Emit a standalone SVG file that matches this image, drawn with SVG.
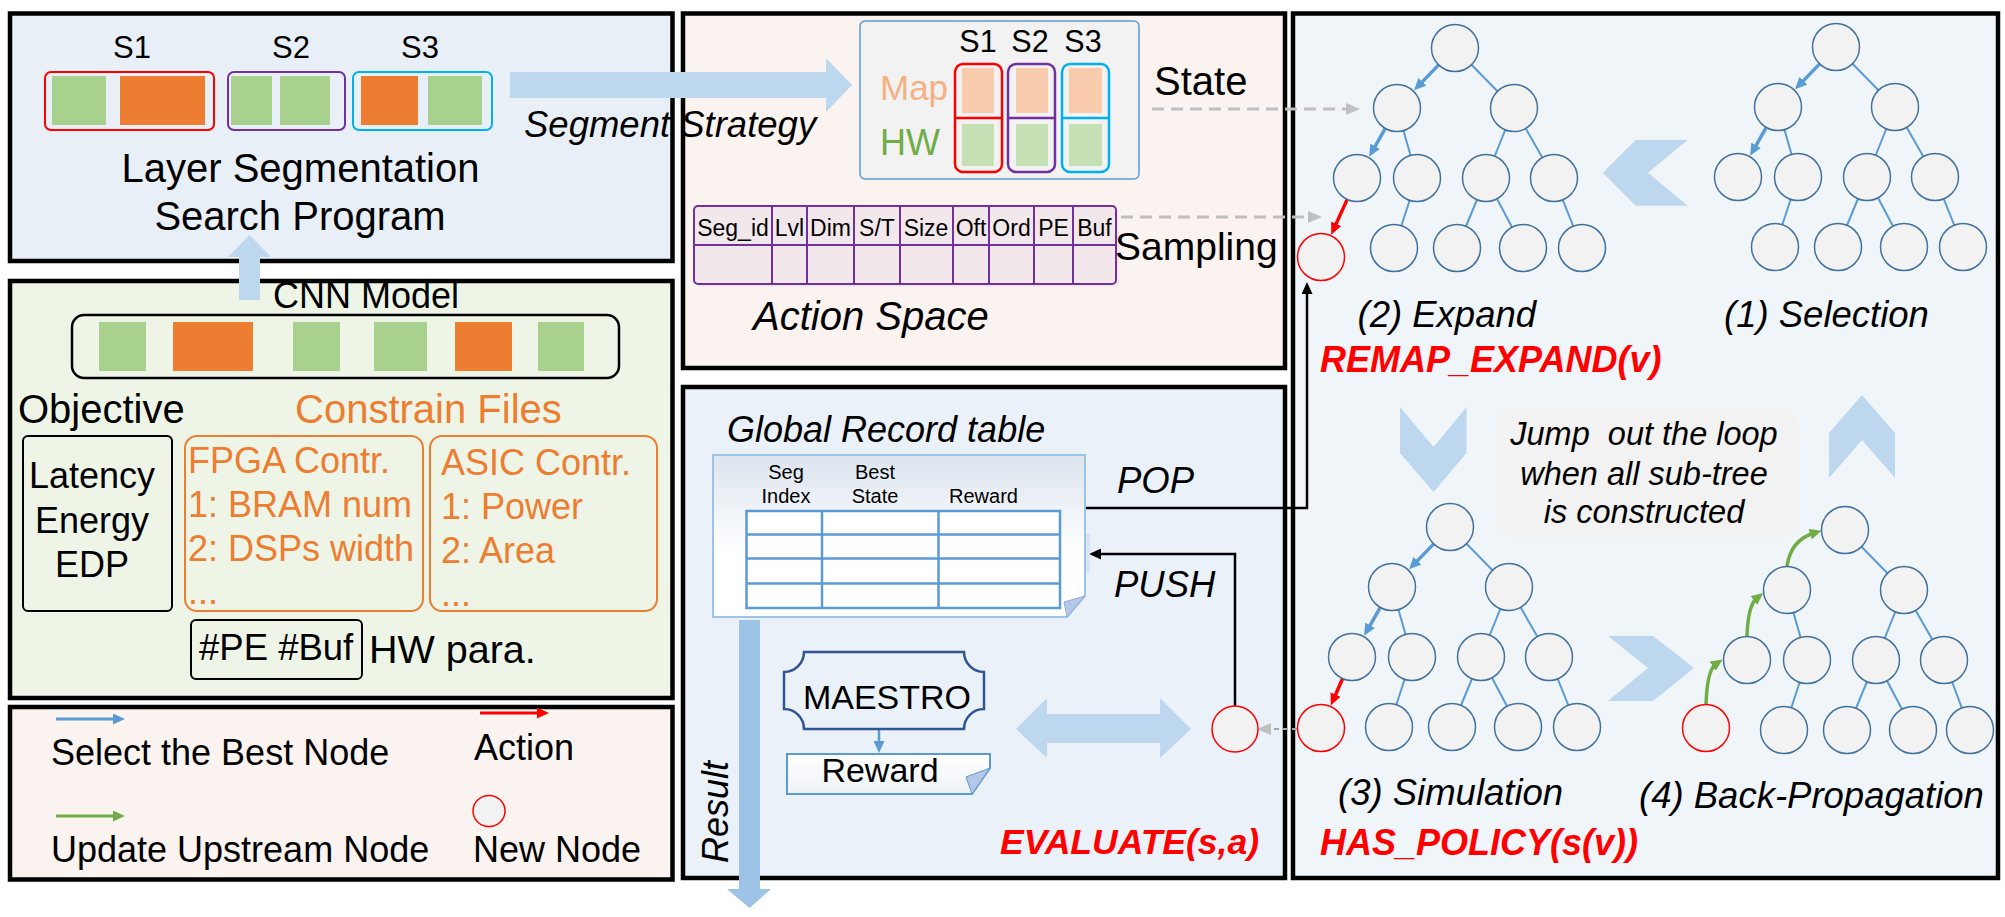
<svg xmlns="http://www.w3.org/2000/svg" width="2005" height="917" viewBox="0 0 2005 917">
<style>
text{font-family:"Liberation Sans",Arial,sans-serif;fill:#000}
.it{font-style:italic}
.bi{font-style:italic;font-weight:bold;fill:#FF0000}
.mid{text-anchor:middle}
.panel{stroke:#000;stroke-width:4.5}
.tn{fill:#F2F2F2;stroke:#41719C;stroke-width:1.5}
.nn{fill:#F2F2F2;stroke:#FF0000;stroke-width:1.5}
.te{stroke:#5B9BD5;stroke-width:2;fill:none}
.ba{stroke:#5B9BD5;stroke-width:3.5;fill:none;marker-end:url(#mb)}
.ra{stroke:#FF0000;stroke-width:3.5;fill:none;marker-end:url(#mr)}
.ga{stroke:#70AD47;stroke-width:3.5;fill:none;marker-end:url(#mg)}
.gd{stroke:#BFBFBF;stroke-width:3;stroke-dasharray:12 7;fill:none;marker-end:url(#mgr)}
.k{stroke:#000;stroke-width:2.5;fill:none;marker-end:url(#mk)}
.g{fill:#A9D18E}
.o{fill:#ED7D31}
.chev{fill:#BDD7EE}
.org{fill:#ED7D31}
.cell{stroke:#7030A0;stroke-width:2}
.grid{stroke:#5B9BD5;stroke-width:2.5;fill:none}
</style>
<defs>
<marker id="mb" markerUnits="userSpaceOnUse" markerWidth="12" markerHeight="11" viewBox="0 0 12 11" refX="4" refY="5.5" orient="auto"><path d="M0,0 L12,5.5 L0,11 z" fill="#5B9BD5"/></marker>
<marker id="mr" markerUnits="userSpaceOnUse" markerWidth="12" markerHeight="11" viewBox="0 0 12 11" refX="4" refY="5.5" orient="auto"><path d="M0,0 L12,5.5 L0,11 z" fill="#FF0000"/></marker>
<marker id="mg" markerUnits="userSpaceOnUse" markerWidth="12" markerHeight="11" viewBox="0 0 12 11" refX="4" refY="5.5" orient="auto"><path d="M0,0 L12,5.5 L0,11 z" fill="#70AD47"/></marker>
<marker id="mgr" markerUnits="userSpaceOnUse" markerWidth="14" markerHeight="12" viewBox="0 0 14 12" refX="5" refY="6" orient="auto"><path d="M0,0 L14,6 L0,12 z" fill="#BFBFBF"/></marker>
<marker id="mk" markerUnits="userSpaceOnUse" markerWidth="12" markerHeight="11" viewBox="0 0 12 11" refX="4" refY="5.5" orient="auto"><path d="M0,0 L12,5.5 L0,11 z" fill="#000"/></marker>
<linearGradient id="doc" x1="0" y1="0" x2="0" y2="1"><stop offset="0" stop-color="#DCE4EE"/><stop offset="0.6" stop-color="#FFFFFF"/><stop offset="1" stop-color="#FFFFFF"/></linearGradient>
<linearGradient id="doc2" x1="0" y1="0" x2="0" y2="1"><stop offset="0" stop-color="#FFFFFF"/><stop offset="1" stop-color="#EEF2F7"/></linearGradient>
</defs>

<g id="panels">
<rect class="panel" x="10" y="13.5" width="662.5" height="247.5" fill="#E9EFF7"/>
<rect class="panel" x="10" y="281" width="662.5" height="417" fill="#EEF5E7"/>
<rect class="panel" x="10" y="707" width="662.5" height="172.5" fill="#FBF3EF"/>
<rect class="panel" x="683" y="13.5" width="602" height="354.5" fill="#FBF3EF"/>
<rect class="panel" x="683" y="387" width="602" height="491" fill="#EAF1F8"/>
<rect class="panel" x="1293" y="13.5" width="705" height="864.5" fill="#F0F5FA"/>
</g>

<g id="connectors">
<polygon points="510,72 826,72 826,58 852,85 826,112 826,98 510,98" fill="#BDD7EE"/>
<polygon points="239,300 239,257 228,257 249.5,235 271,257 260,257 260,300" fill="#BDD7EE"/>
<polygon points="739,620 760,620 760,889 771,889 749.5,908 727,889 739,889" fill="#9DC3E6"/>
<polygon points="1016,729 1047,698 1047,714 1160,714 1160,698 1191,729 1160,758 1160,743 1047,743 1047,758" fill="#BDD7EE"/>
<path class="gd" d="M1152,109 H1351"/>
<path class="gd" d="M1121,217 H1313"/>
<path d="M1297,729 H1266" stroke="#A6A6A6" stroke-width="2" stroke-dasharray="5 4" fill="none" marker-end="url(#mgr)"/>
<path class="k" d="M1085,508 H1307 V290"/>
<path class="k" d="M1235,706 V554 H1097"/>
<path d="M879,729 V745" stroke="#5B9BD5" stroke-width="2.5" fill="none" marker-end="url(#mb)"/>
<!-- tree edges -->
<g id="edges-expand">
<path class="te" d="M1455,48 L1514,108 M1397,108 L1417,178 M1514,108 L1486,178 M1514,108 L1554,178 M1417,178 L1394,248 M1486,178 L1457,248 M1486,178 L1523,248 M1554,178 L1582,248"/>
<path class="ba" d="M1438.7,64.9 L1419.6,84.6"/>
<path class="ba" d="M1385.3,128.4 L1373.1,149.8"/>
<path class="ra" d="M1347.2,199.4 L1334.5,227.4"/>
</g>
<g id="edges-selection">
<path class="te" d="M1836,47 L1895,107 M1778,107 L1798,177 M1895,107 L1867,177 M1895,107 L1935,177 M1798,177 L1775,247 M1867,177 L1838,247 M1867,177 L1904,247 M1935,177 L1963,247"/>
<path class="ba" d="M1819.7,63.9 L1800.6,83.6"/>
<path class="ba" d="M1766.3,127.4 L1754.1,148.8"/>
</g>
<g id="edges-simulation">
<path class="te" d="M1450,527 L1509,587 M1392,587 L1412,657 M1509,587 L1481,657 M1509,587 L1549,657 M1412,657 L1389,727 M1481,657 L1452,727 M1481,657 L1518,727 M1549,657 L1577,727"/>
<path class="ba" d="M1433.7,543.9 L1414.6,563.6"/>
<path class="ba" d="M1380.3,607.4 L1368.1,628.8"/>
<path class="ra" d="M1342.6,678.5 L1334,698.2"/>
</g>
<g id="edges-backprop">
<path class="te" d="M1845,530 L1904,590 M1787,590 L1807,660 M1904,590 L1876,660 M1904,590 L1944,660 M1807,660 L1784,730 M1876,660 L1847,730 M1876,660 L1913,730 M1944,660 L1970,730"/>
<path class="ga" d="M1706,705 Q1707,670 1716,664"/>
<path class="ga" d="M1747,636 Q1748,605 1757,598"/>
<path class="ga" d="M1787,566 Q1791,540 1814,533"/>
</g>
</g>

<g id="segment-program">
<text class="mid" x="132" y="58" font-size="31">S1</text>
<text class="mid" x="291" y="58" font-size="31">S2</text>
<text class="mid" x="420" y="58" font-size="31">S3</text>
<rect x="45" y="72" width="169" height="58" rx="6" fill="none" stroke="#FF0000" stroke-width="2"/>
<rect class="g" x="52" y="76" width="54" height="49"/>
<rect class="o" x="120" y="76" width="85" height="49"/>
<rect x="228" y="72" width="117" height="58" rx="6" fill="none" stroke="#7030A0" stroke-width="2"/>
<rect class="g" x="231" y="76" width="41" height="49"/>
<rect class="g" x="280" y="76" width="50" height="49"/>
<rect x="353" y="72" width="139" height="58" rx="6" fill="none" stroke="#00B0F0" stroke-width="2"/>
<rect class="o" x="361" y="76" width="57" height="49"/>
<rect class="g" x="428" y="76" width="54" height="49"/>
<text class="mid" x="300.5" y="182" font-size="40">Layer Segmentation</text>
<text class="mid" x="300" y="230" font-size="40">Search Program</text>
</g>
<text id="segment-strategy" class="it" x="524" y="137" font-size="36.5">Segment Strategy</text>

<g id="cnn-model">
<text x="273" y="308" font-size="36">CNN Model</text>
<rect x="72" y="315" width="547" height="63" rx="12" fill="none" stroke="#000" stroke-width="2.5"/>
<rect class="g" x="99" y="322" width="47" height="49"/>
<rect class="o" x="173" y="322" width="80" height="49"/>
<rect class="g" x="293" y="322" width="47" height="49"/>
<rect class="g" x="374" y="322" width="53" height="49"/>
<rect class="o" x="455" y="322" width="57" height="49"/>
<rect class="g" x="538" y="322" width="46" height="49"/>
<text x="18" y="423" font-size="40">Objective</text>
<text class="org" x="295" y="423" font-size="40">Constrain Files</text>
<rect x="23" y="436" width="149" height="175" rx="5" fill="none" stroke="#000" stroke-width="2"/>
<text class="mid" x="92" y="488" font-size="36">Latency</text>
<text class="mid" x="92" y="533" font-size="36">Energy</text>
<text class="mid" x="92" y="577" font-size="36">EDP</text>
<rect x="185" y="436" width="238" height="175" rx="12" fill="none" stroke="#ED7D31" stroke-width="2"/>
<text class="org" x="188" y="473" font-size="36">FPGA Contr.</text>
<text class="org" x="188" y="517" font-size="36">1: BRAM num</text>
<text class="org" x="188" y="561" font-size="36">2: DSPs width</text>
<text class="org" x="188" y="604" font-size="36">...</text>
<rect x="430" y="436" width="227" height="175" rx="12" fill="none" stroke="#ED7D31" stroke-width="2"/>
<text class="org" x="441" y="475" font-size="36">ASIC Contr.</text>
<text class="org" x="441" y="519" font-size="36">1: Power</text>
<text class="org" x="441" y="563" font-size="36">2: Area</text>
<text class="org" x="441" y="606" font-size="36">...</text>
<rect x="191" y="620" width="171" height="59" rx="5" fill="none" stroke="#000" stroke-width="2"/>
<text x="199" y="660" font-size="36.5">#PE #Buf</text>
<text x="369" y="663" font-size="39.5">HW para.</text>
</g>

<g id="legend">
<path d="M56,719 H117" stroke="#5B9BD5" stroke-width="3" marker-end="url(#mb)"/>
<text x="51" y="765" font-size="36">Select the Best Node</text>
<path d="M480,713 H541" stroke="#FF0000" stroke-width="3" marker-end="url(#mr)"/>
<text x="474" y="760" font-size="36">Action</text>
<path d="M56,816 H117" stroke="#70AD47" stroke-width="3" marker-end="url(#mg)"/>
<text x="51" y="862" font-size="36">Update Upstream Node</text>
<ellipse class="nn" cx="489" cy="811" rx="16" ry="15.5"/>
<text x="473" y="862" font-size="36">New Node</text>
</g>

<g id="state">
<rect x="860" y="21" width="279" height="158" rx="5" fill="#F2F2F2" stroke="#5B9BD5" stroke-width="1.5"/>
<text class="mid" x="978" y="52" font-size="30.5">S1</text>
<text class="mid" x="1030" y="52" font-size="30.5">S2</text>
<text class="mid" x="1083" y="52" font-size="30.5">S3</text>
<text x="880" y="100" font-size="35" fill="#F4B183" style="fill:#F4B183">Map</text>
<text x="880" y="155" font-size="36" style="fill:#70AD47">HW</text>
<rect x="962" y="68" width="32" height="45" fill="#F8CBAD"/>
<rect x="962" y="124" width="32" height="42" fill="#C5E0B4"/>
<rect x="1016" y="68" width="32" height="45" fill="#F8CBAD"/>
<rect x="1016" y="124" width="32" height="42" fill="#C5E0B4"/>
<rect x="1069" y="68" width="33" height="45" fill="#F8CBAD"/>
<rect x="1069" y="124" width="33" height="42" fill="#C5E0B4"/>
<rect x="955" y="64" width="47" height="108" rx="8" fill="none" stroke="#FF0000" stroke-width="2.5"/>
<line x1="955" y1="118" x2="1002" y2="118" stroke="#FF0000" stroke-width="2.5"/>
<rect x="1008" y="64" width="47" height="108" rx="8" fill="none" stroke="#7030A0" stroke-width="2.5"/>
<line x1="1008" y1="118" x2="1055" y2="118" stroke="#7030A0" stroke-width="2.5"/>
<rect x="1062" y="64" width="47" height="108" rx="8" fill="none" stroke="#00B0F0" stroke-width="2.5"/>
<line x1="1062" y1="118" x2="1109" y2="118" stroke="#00B0F0" stroke-width="2.5"/>
<text x="1154" y="95" font-size="40">State</text>
</g>

<g id="action-space">
<rect x="697" y="209" width="422" height="78" rx="4" fill="#E8E0E4" opacity="0.5"/>
<rect class="cell" x="694" y="206" width="422" height="78" rx="4" fill="#F2E8EC"/>
<path class="cell" d="M694,245 H1116 M772,206 V284 M807,206 V284 M854,206 V284 M900,206 V284 M953,206 V284 M989,206 V284 M1034,206 V284 M1073,206 V284"/>
<text class="mid" x="733" y="236" font-size="23">Seg_id</text>
<text class="mid" x="789.5" y="236" font-size="23">Lvl</text>
<text class="mid" x="830.5" y="236" font-size="23">Dim</text>
<text class="mid" x="877" y="236" font-size="23">S/T</text>
<text class="mid" x="926" y="236" font-size="23">Size</text>
<text class="mid" x="971" y="236" font-size="23">Oft</text>
<text class="mid" x="1011.5" y="236" font-size="23">Ord</text>
<text class="mid" x="1053.5" y="236" font-size="23">PE</text>
<text class="mid" x="1094.5" y="236" font-size="23">Buf</text>
<text x="1115" y="260" font-size="39">Sampling</text>
<text class="it" x="753" y="330" font-size="40">Action Space</text>
</g>

<g id="global-record">
<text class="it" x="727" y="442" font-size="36">Global Record table</text>
<rect x="1085" y="534" width="5" height="39" fill="#D6E4F3"/>
<path d="M713,455 H1085 V596 L1067,617 H713 Z" fill="url(#doc)" stroke="#9DC3E6" stroke-width="2"/>
<polygon points="1085,596 1067,617 1064,602" fill="#B4C7E7" stroke="#8FAADC" stroke-width="1"/>
<rect x="746.5" y="511" width="313.5" height="97" fill="#FFFFFF"/>
<path class="grid" d="M746.5,511 H1060 V608 H746.5 Z M746.5,534.5 H1060 M746.5,558.5 H1060 M746.5,583.5 H1060 M822,511 V608 M938.5,511 V608"/>
<text class="mid" x="786" y="479" font-size="20">Seg</text>
<text class="mid" x="786" y="503" font-size="20">Index</text>
<text class="mid" x="875" y="479" font-size="20">Best</text>
<text class="mid" x="875" y="503" font-size="20">State</text>
<text class="mid" x="983.5" y="503" font-size="20">Reward</text>
<text class="it" x="1117" y="493" font-size="36.5">POP</text>
<text class="it" x="1114" y="597" font-size="36.5">PUSH</text>
</g>

<g id="maestro">
<path d="M804,652 H964 A20,20 0 0 0 984,672 V709 A20,20 0 0 0 964,729 H804 A20,20 0 0 0 784,709 V672 A20,20 0 0 0 804,652 Z" fill="#EAF1F8" stroke="#2F5597" stroke-width="2.5"/>
<text class="mid" x="887" y="709" font-size="34">MAESTRO</text>
</g>
<g id="reward">
<path d="M787,754 H990 V768 L972,794 H787 Z" fill="url(#doc2)" stroke="#5B9BD5" stroke-width="2"/>
<polygon points="990,768 972,794 966,777" fill="#B4C7E7" stroke="#5B9BD5" stroke-width="1"/>
<text class="mid" x="880" y="782" font-size="34">Reward</text>
</g>
<text id="result-label" class="it" transform="translate(728,863) rotate(-90)" font-size="36">Result</text>
<g id="evaluate">
<ellipse class="nn" cx="1235" cy="729" rx="23" ry="23"/>
<text class="bi" x="1000" y="854" font-size="35.5">EVALUATE(s,a)</text>
</g>

<g id="tree-expand">
<circle id="e-r" class="tn" cx="1455" cy="48" r="23.5"/>
<circle id="e-a" class="tn" cx="1397" cy="108" r="23.5"/>
<circle id="e-b" class="tn" cx="1514" cy="108" r="23.5"/>
<circle id="e-c" class="tn" cx="1357" cy="178" r="23.5"/>
<circle id="e-d" class="tn" cx="1417" cy="178" r="23.5"/>
<circle id="e-e" class="tn" cx="1486" cy="178" r="23.5"/>
<circle id="e-f" class="tn" cx="1554" cy="178" r="23.5"/>
<circle id="e-g" class="tn" cx="1394" cy="248" r="23.5"/>
<circle id="e-h" class="tn" cx="1457" cy="248" r="23.5"/>
<circle id="e-i" class="tn" cx="1523" cy="248" r="23.5"/>
<circle id="e-j" class="tn" cx="1582" cy="248" r="23.5"/>
<circle id="e-n" class="nn" cx="1321" cy="257" r="23.5"/>
<text class="it" x="1357.5" y="327" font-size="36.5">(2) Expand</text>
<text class="bi" x="1320" y="372" font-size="36">REMAP_EXPAND(v)</text>
</g>

<g id="tree-selection">
<circle id="s-r" class="tn" cx="1836" cy="47" r="23.5"/>
<circle id="s-a" class="tn" cx="1778" cy="107" r="23.5"/>
<circle id="s-b" class="tn" cx="1895" cy="107" r="23.5"/>
<circle id="s-c" class="tn" cx="1738" cy="177" r="23.5"/>
<circle id="s-d" class="tn" cx="1798" cy="177" r="23.5"/>
<circle id="s-e" class="tn" cx="1867" cy="177" r="23.5"/>
<circle id="s-f" class="tn" cx="1935" cy="177" r="23.5"/>
<circle id="s-g" class="tn" cx="1775" cy="247" r="23.5"/>
<circle id="s-h" class="tn" cx="1838" cy="247" r="23.5"/>
<circle id="s-i" class="tn" cx="1904" cy="247" r="23.5"/>
<circle id="s-j" class="tn" cx="1963" cy="247" r="23.5"/>
<text class="it" x="1724" y="327" font-size="36.5">(1) Selection</text>
</g>

<g id="tree-simulation">
<circle id="m-r" class="tn" cx="1450" cy="527" r="23.5"/>
<circle id="m-a" class="tn" cx="1392" cy="587" r="23.5"/>
<circle id="m-b" class="tn" cx="1509" cy="587" r="23.5"/>
<circle id="m-c" class="tn" cx="1352" cy="657" r="23.5"/>
<circle id="m-d" class="tn" cx="1412" cy="657" r="23.5"/>
<circle id="m-e" class="tn" cx="1481" cy="657" r="23.5"/>
<circle id="m-f" class="tn" cx="1549" cy="657" r="23.5"/>
<circle id="m-g" class="tn" cx="1389" cy="727" r="23.5"/>
<circle id="m-h" class="tn" cx="1452" cy="727" r="23.5"/>
<circle id="m-i" class="tn" cx="1518" cy="727" r="23.5"/>
<circle id="m-j" class="tn" cx="1577" cy="727" r="23.5"/>
<circle id="m-n" class="nn" cx="1321" cy="728" r="23.5"/>
<text class="it" x="1338" y="805" font-size="36.5">(3) Simulation</text>
<text class="bi" x="1320" y="855" font-size="36">HAS_POLICY(s(v))</text>
</g>

<g id="tree-backprop">
<circle id="b-r" class="tn" cx="1845" cy="530" r="23.5"/>
<circle id="b-a" class="tn" cx="1787" cy="590" r="23.5"/>
<circle id="b-b" class="tn" cx="1904" cy="590" r="23.5"/>
<circle id="b-c" class="tn" cx="1747" cy="660" r="23.5"/>
<circle id="b-d" class="tn" cx="1807" cy="660" r="23.5"/>
<circle id="b-e" class="tn" cx="1876" cy="660" r="23.5"/>
<circle id="b-f" class="tn" cx="1944" cy="660" r="23.5"/>
<circle id="b-g" class="tn" cx="1784" cy="730" r="23.5"/>
<circle id="b-h" class="tn" cx="1847" cy="730" r="23.5"/>
<circle id="b-i" class="tn" cx="1913" cy="730" r="23.5"/>
<circle id="b-j" class="tn" cx="1970" cy="730" r="23.5"/>
<circle id="b-n" class="nn" cx="1706" cy="728" r="23.5"/>
<text class="it" x="1639" y="808" font-size="36.5">(4) Back-Propagation</text>
</g>

<g id="loop-chevrons">
<polygon class="chev" points="1687.6,140 1635.6,140 1602.8,172.7 1635.6,205.7 1687.6,205.7 1648,172.7"/>
<polygon class="chev" points="1400,407 1433.6,447 1466.5,407 1466.5,453 1433.6,492 1400,453"/>
<polygon class="chev" points="1829,433 1862,395 1895,433 1895,478 1862,440 1829,478"/>
<polygon class="chev" points="1608,636 1653,636 1694,668 1653,701 1608,701 1648,668"/>
</g>

<g id="jump-note">
<rect x="1496" y="408" width="303" height="130" rx="20" fill="#F2F2F2"/>
<text class="it mid" x="1644" y="445" font-size="32.5" xml:space="preserve">Jump  out the loop</text>
<text class="it mid" x="1644" y="485" font-size="32.5">when all sub-tree</text>
<text class="it mid" x="1644" y="523" font-size="32.5">is constructed</text>
</g>
</svg>
